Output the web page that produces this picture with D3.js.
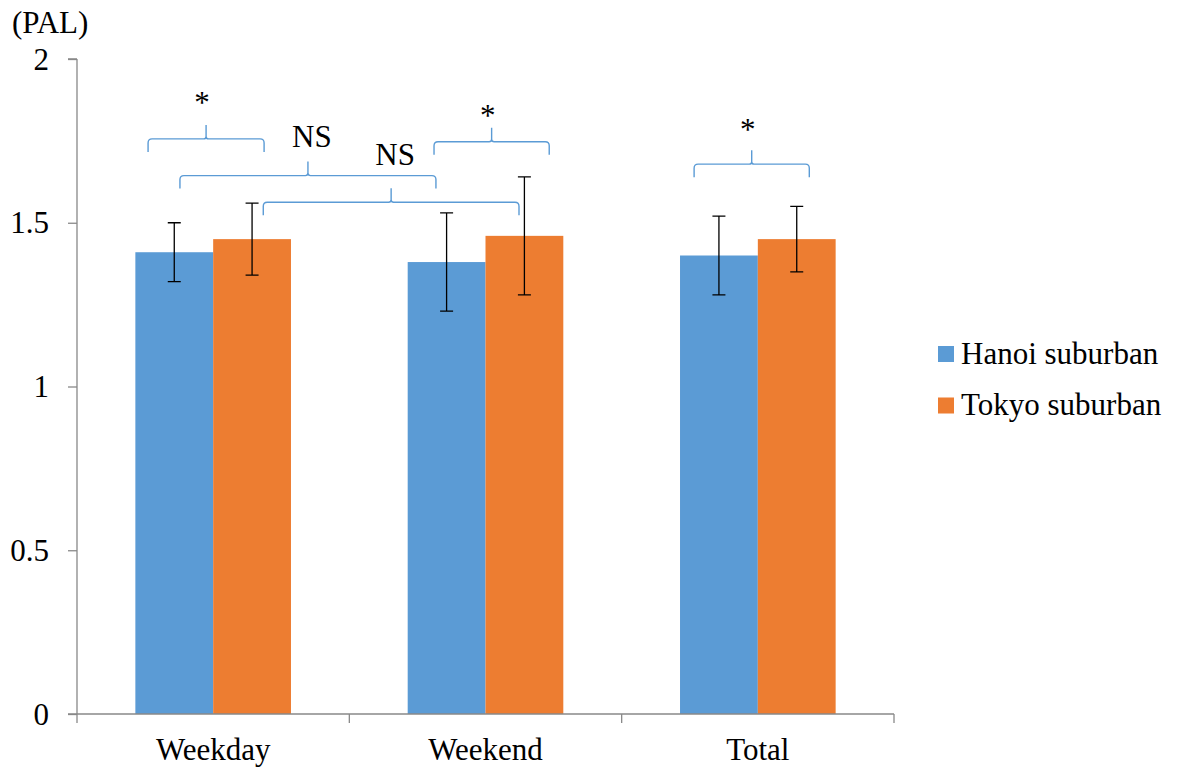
<!DOCTYPE html>
<html>
<head>
<meta charset="utf-8">
<script src="https://cdn.jsdelivr.net/npm/d3@7"></script>
<style>
  body { margin: 0; background: #fff; }
</style>
</head>
<body>
<div id="chart"></div>
<script>
// data
var categories = ["Weekday", "Weekend", "Total"];
var series = ["Hanoi suburban", "Tokyo suburban"];
var hanoiMean = [1.41, 1.38, 1.40];
var hanoiLow  = [1.32, 1.23, 1.28];
var hanoiHigh = [1.50, 1.53, 1.52];
var tokyoMean = [1.45, 1.46, 1.45];
var tokyoLow  = [1.34, 1.28, 1.35];
var tokyoHigh = [1.56, 1.64, 1.55];
var yTicks = [0, 0.5, 1, 1.5, 2];

// significance brackets: [category, fraction of band] for both ends, y in PAL units
var brackets = [
  {from: ["Weekday", 0.261], to: ["Weekday", 0.687], y: 1.756, label: "*",  labelY: 1.834},
  {from: ["Weekday", 0.378], to: ["Weekend", 0.318], y: 1.644, label: "NS", labelY: 1.732},
  {from: ["Weekday", 0.684], to: ["Weekend", 0.623], y: 1.5625, label: "NS", labelY: 1.676},
  {from: ["Weekend", 0.311], to: ["Weekend", 0.734], y: 1.7475, label: "*", labelY: 1.795},
  {from: ["Total", 0.266],   to: ["Total", 0.689],   y: 1.679, label: "*",  labelY: 1.753}
];

var colors = {"Hanoi suburban": "#5b9bd5", "Tokyo suburban": "#ed7d31"};
var serif = "'Liberation Serif', 'Times New Roman', Times, 'DejaVu Serif', serif";

var rows = [];
categories.forEach(function(c, i) {
  rows.push({cat: c, s: series[0], v: hanoiMean[i], lo: hanoiLow[i], hi: hanoiHigh[i]});
  rows.push({cat: c, s: series[1], v: tokyoMean[i], lo: tokyoLow[i], hi: tokyoHigh[i]});
});

var width = 1181, height = 769;
var margin = {top: 59, left: 77, right: 287, bottom: 55};

var svg = d3.select("#chart").append("svg")
    .attr("width", width)
    .attr("height", height)
    .attr("font-family", serif);

var x = d3.scaleBand().domain(categories).range([margin.left, width - margin.right]);
var xs = d3.scaleBand().domain(series).range([0, x.bandwidth()]).paddingInner(0).paddingOuter(0.75);
var y = d3.scaleLinear().domain([0, 2]).range([height - margin.bottom, margin.top]);

var axisColor = "#898989";

// y axis
var yAxis = svg.append("g")
    .attr("transform", "translate(" + margin.left + ",0)")
    .call(d3.axisLeft(y).tickValues(yTicks).tickSize(9).tickPadding(19).tickFormat(d3.format("")));
yAxis.attr("font-family", serif).attr("font-size", 31);
yAxis.select(".domain").attr("stroke", axisColor).attr("stroke-width", 1.3)
    .attr("d", "M0," + y(2) + "H-9M0," + y(2) + "V" + y(0));
yAxis.selectAll(".tick line").attr("stroke", axisColor).attr("stroke-width", 1.3);
yAxis.selectAll(".tick text").style("font-family", serif).style("font-size", "31px").attr("dy", "0.33em");

// bars
svg.append("g").selectAll("rect")
  .data(rows)
  .join("rect")
    .attr("x", function(d) { return x(d.cat) + xs(d.s); })
    .attr("y", function(d) { return y(d.v); })
    .attr("width", xs.bandwidth())
    .attr("height", function(d) { return y(0) - y(d.v); })
    .attr("fill", function(d) { return colors[d.s]; });

// x axis
var xAxis = svg.append("g")
    .attr("transform", "translate(0," + y(0) + ")");
xAxis.append("line")
    .attr("x1", margin.left - 9).attr("x2", x.range()[1])
    .attr("stroke", axisColor).attr("stroke-width", 1.3);
xAxis.selectAll("line.tk")
  .data(categories.map(function(c) { return x(c); }).concat([x.range()[1]]))
  .join("line")
    .attr("class", "tk")
    .attr("x1", function(d) { return d; }).attr("x2", function(d) { return d; })
    .attr("y1", 0).attr("y2", 9)
    .attr("stroke", axisColor).attr("stroke-width", 1.3);
xAxis.selectAll("text")
  .data(categories)
  .join("text")
    .attr("x", function(d) { return x(d) + x.bandwidth() / 2; })
    .attr("y", 46)
    .attr("text-anchor", "middle")
    .style("font-family", serif)
    .style("font-size", "31px")
    .text(function(d) { return d; });

// error bars
var eb = svg.append("g").attr("stroke", "#000").attr("stroke-width", 1.3).attr("fill", "none");
var cap = 6.5;
eb.selectAll("path")
  .data(rows)
  .join("path")
    .attr("d", function(d) {
      var cx = x(d.cat) + xs(d.s) + xs.bandwidth() / 2;
      return "M" + (cx - cap) + "," + y(d.hi) + "H" + (cx + cap) +
             "M" + cx + "," + y(d.hi) + "V" + y(d.lo) +
             "M" + (cx - cap) + "," + y(d.lo) + "H" + (cx + cap);
    });

// brackets
function bx(p) { return x(p[0]) + p[1] * x.bandwidth(); }
function bracePath(b) {
  var x0 = bx(b.from), x1 = bx(b.to), xm = (x0 + x1) / 2;
  var yl = y(b.y), drop = 13, rise = 14, r = 4, t = 2.5;
  return "M" + x0 + "," + (yl + drop) +
    "V" + (yl + r) + "Q" + x0 + "," + yl + " " + (x0 + r) + "," + yl +
    "H" + (xm - t) + "Q" + xm + "," + yl + " " + xm + "," + (yl - t) +
    "V" + (yl - rise) +
    "M" + xm + "," + (yl - t) + "Q" + xm + "," + yl + " " + (xm + t) + "," + yl +
    "H" + (x1 - r) + "Q" + x1 + "," + yl + " " + x1 + "," + (yl + r) +
    "V" + (yl + drop);
}
var br = svg.append("g");
br.selectAll("path")
  .data(brackets)
  .join("path")
    .attr("d", bracePath)
    .attr("fill", "none")
    .attr("stroke", "#5b9bd5")
    .attr("stroke-width", 1.4);
br.selectAll("text")
  .data(brackets)
  .join("text")
    .attr("x", function(d) { return (bx(d.from) + bx(d.to)) / 2 + (d.label === "*" ? -4 : 4); })
    .attr("y", function(d) { return y(d.labelY); })
    .attr("text-anchor", "middle")
    .style("font-family", serif)
    .style("font-size", "31px")
    .text(function(d) { return d.label; });

// y unit label
svg.append("text")
    .attr("x", 12)
    .attr("y", 33)
    .style("font-family", serif)
    .style("font-size", "31px")
    .text("(PAL)");

// legend
var lg = svg.append("g").attr("transform", "translate(938,346)");
var li = lg.selectAll("g")
  .data(series)
  .join("g")
    .attr("transform", function(d, i) { return "translate(0," + (i * 51.5) + ")"; });
li.append("rect")
    .attr("width", 16).attr("height", 16)
    .attr("fill", function(d) { return colors[d]; });
li.append("text")
    .attr("x", 23)
    .attr("y", 17.5)
    .style("font-family", serif)
    .style("font-size", "31px")
    .text(function(d) { return d; });
</script>
</body>
</html>
